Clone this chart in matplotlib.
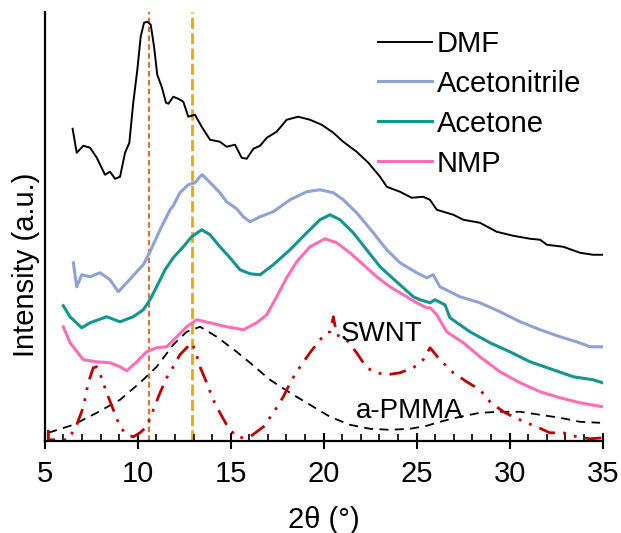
import matplotlib
matplotlib.use("Agg")
import matplotlib.pyplot as plt

plt.rcParams.update({
    'font.family': ['Liberation Sans', 'DejaVu Sans'],
    'font.size': 21,
})

# DMF
dmf_x = [6.5, 6.72, 7.08, 7.44, 7.8, 8.24, 8.51, 8.78, 9.05, 9.32, 9.55, 9.76, 9.98, 10.16, 10.34,
         10.52, 10.7, 10.88, 11.05, 11.29, 11.52, 11.65, 11.91, 12.18, 12.45, 12.72, 13.08, 13.44,
         13.89, 14.42, 14.78, 15.23, 15.59, 15.86, 16.22, 16.58, 16.94, 17.47, 18.01, 18.63, 19.26,
         19.89, 20.52, 21.05, 21.77, 22.4, 23.03, 23.39, 24.1, 24.73, 25.35, 25.71, 26.08, 26.97,
         27.51, 28.4, 29.3, 30.19, 31.1, 31.64, 32.0, 32.88, 33.78, 34.49, 35.0]
dmf_y = [312, 288, 295, 293, 283, 266, 269, 262, 264, 288, 298, 338, 371, 404, 418,
         419, 416, 394, 366, 354, 338, 337, 344, 342, 339, 324, 326, 314,
         301, 299, 294, 296, 283, 282, 292, 295, 303, 309, 321, 324, 321,
         316, 308, 299, 289, 278, 264, 254, 249, 243, 244, 241, 231, 226,
         221, 218, 209, 205, 202, 201, 196, 194, 188, 186, 186]

# Acetonitrile
acn_x = [6.54, 6.72, 6.99, 7.44, 7.97, 8.51, 8.96, 9.41, 9.95, 10.3, 10.66, 11.2, 11.74, 11.91,
         12.27, 12.72, 13.08, 13.44, 13.53, 14.06, 14.42, 14.78, 15.32, 15.68, 16.04, 16.58, 17.29,
         18.19, 19.09, 19.8, 20.52, 21.05, 21.77, 22.67, 23.39, 24.1, 25.0, 25.54, 25.89, 26.25,
         27.33, 28.4, 29.48, 30.56, 31.64, 32.71, 33.6, 34.32, 35.0]
acn_y = [178, 154, 166, 164, 168, 161, 149, 158, 169, 176, 189, 211, 231, 235,
         248, 256, 258, 266, 265, 255, 248, 239, 232, 224, 219, 224, 229,
         241, 249, 251, 248, 241, 228, 208, 191, 178, 168, 163, 166, 154,
         144, 138, 129, 119, 111, 104, 99, 94, 94]

# Acetone
ace_x = [6.0, 6.36, 6.99, 7.44, 8.33, 9.05, 9.76, 10.3, 10.66, 11.02, 11.47, 11.91, 12.45, 12.9,
         13.44, 13.89, 14.42, 14.96, 15.5, 16.04, 16.58, 17.29, 18.19, 19.09, 19.8, 20.34, 20.88,
         21.59, 22.31, 23.03, 23.92, 24.82, 25.18, 25.72, 25.98, 26.52, 26.79, 27.86, 28.94, 30.01,
         31.09, 32.34, 33.42, 34.49, 35.0]
ace_y = [135, 124, 113, 118, 124, 119, 124, 131, 141, 154, 171, 183, 194, 204,
         211, 206, 194, 183, 171, 167, 166, 176, 191, 208, 221, 226, 221,
         208, 191, 174, 159, 144, 141, 138, 141, 136, 123, 109, 98, 89,
         79, 71, 64, 61, 58]

# NMP
nmp_x = [6.0, 6.36, 7.08, 7.8, 8.51, 9.05, 9.41, 9.95, 10.48, 11.02, 11.56, 12.1, 12.63, 13.17,
         13.89, 14.78, 15.41, 15.68, 16.4, 16.94, 17.47, 18.01, 18.55, 19.26, 20.07, 20.7, 21.41,
         22.13, 22.85, 23.56, 24.28, 25.0, 25.54, 25.72, 26.08, 26.61, 27.51, 28.4, 29.48, 30.56,
         31.64, 32.71, 33.78, 35.0]
nmp_y = [114, 98, 81, 79, 78, 74, 70, 79, 89, 93, 94, 104, 114, 121,
         118, 114, 112, 111, 118, 126, 144, 163, 179, 194, 202, 198, 188,
         176, 164, 154, 146, 138, 133, 133, 126, 109, 98, 84, 69, 58,
         49, 43, 38, 34]

# SWNT reference
swnt_x = [5.19, 5.2, 5.7, 6.27, 6.72, 7.08, 7.34, 7.61, 7.8, 8.06, 8.33, 8.69, 9.05, 9.41, 9.76,
          10.12, 10.48, 10.84, 11.2, 11.56, 11.91, 12.27, 12.63, 12.9, 13.08, 13.35, 13.71, 14.06,
          14.42, 14.87, 15.32, 15.5, 16.04, 16.76, 17.29, 17.83, 18.28, 18.73, 19.26, 19.8, 20.16,
          20.34, 20.52, 20.7, 21.23, 21.77, 22.31, 22.85, 23.39, 24.1, 24.82, 25.35, 25.72, 26.25,
          26.97, 27.69, 28.4, 28.94, 29.66, 30.19, 30.91, 31.45, 32.16, 32.88, 33.6, 34.32, 35.0]
swnt_y = [11, 1, 1, 1, 16, 34, 58, 73, 74, 63, 48, 31, 14, 6, 4,
          8, 14, 31, 48, 63, 74, 86, 93, 98, 91, 74, 58, 41,
          28, 13, 4, 3, 4, 14, 28, 44, 61, 74, 88, 101, 108,
          109, 124, 106, 101, 88, 73, 68, 66, 68, 73, 81, 93, 81,
          68, 59, 51, 39, 29, 24, 18, 14, 8, 8, 4, 2, 3]

# a-PMMA reference
pmma_x = [5.19, 6.54, 7.8, 9.05, 10.12, 11.02, 11.91, 12.63, 13.35, 14.25, 14.96, 15.32, 16.04,
          17.11, 18.19, 19.26, 20.34, 21.41, 22.49, 23.56, 24.64, 25.54, 26.25, 27.33, 28.4, 29.48,
          30.56, 31.64, 32.71, 33.78, 34.86]
pmma_y = [8, 16, 28, 41, 58, 74, 96, 109, 114, 104, 94, 89, 78,
          61, 48, 36, 24, 16, 12, 11, 12, 15, 19, 24, 28, 29,
          29, 26, 23, 19, 18]

peak_lines = [10.6, 12.9]

fig = plt.figure(figsize=(6.21, 5.33), dpi=100)
ax = fig.add_axes([0.072, 0.173, 0.8985, 0.805])

ax.axvline(peak_lines[0], color='#D5763A', lw=1.6, ls=(0, (2.5, 1.5)), zorder=1)
ax.axvline(peak_lines[1], color='#E8AA00', lw=2.0, ls=(0, (4, 1.5)), zorder=1)

ax.plot(pmma_x, pmma_y, color='black', lw=1.3, ls=(0, (5, 3.5)))
ax.plot(swnt_x, swnt_y, color='#C00000', lw=2.0, ls=(0, (6, 3, 1, 3, 1, 3)))
ax.plot(dmf_x, dmf_y, color='black', lw=1.4, label='DMF')
ax.plot(acn_x, acn_y, color='#8FA2D6', lw=2.2, label='Acetonitrile')
ax.plot(ace_x, ace_y, color='#139590', lw=2.2, label='Acetone')
ax.plot(nmp_x, nmp_y, color='#FF6EB4', lw=2.2, label='NMP')

ax.text(23.1, 107, 'SWNT', ha='center', va='center', fontsize=20)
ax.text(24.65, 30, 'a-PMMA', ha='center', va='center', fontsize=20)

ax.set_xlim(5, 35)
ax.set_ylim(0, 429)
ax.set_xticks(range(5, 36, 5))
ax.set_xticks(range(5, 36, 1), minor=True)
ax.set_yticks([])
ax.tick_params(axis='x', which='major', direction='inout', length=12, width=1.5, pad=8)
ax.tick_params(axis='x', which='minor', direction='in', length=5, width=1.2)
for side in ['top', 'right']:
    ax.spines[side].set_visible(False)
for side in ['left', 'bottom']:
    ax.spines[side].set_linewidth(1.6)

ax.set_xlabel('2θ (°)', labelpad=13)
ax.set_ylabel('Intensity (a.u.)')
ax.yaxis.set_label_coords(-0.009, 0.41)

handles, labels = ax.get_legend_handles_labels()
ax.legend(handles, labels, loc='upper left', bbox_to_anchor=(0.598, 0.958), frameon=False,
          borderpad=0, borderaxespad=0, handlelength=1.85, handletextpad=0.15, labelspacing=0.41)

fig.savefig('out.png', dpi=100)
